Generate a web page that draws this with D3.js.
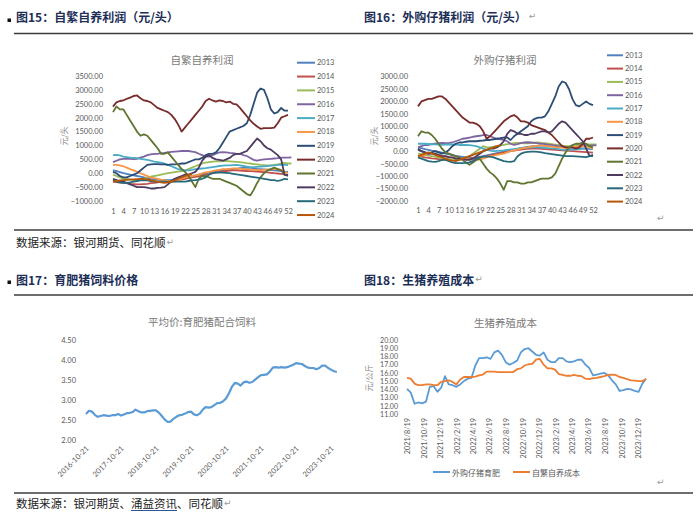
<!DOCTYPE html>
<html><head><meta charset="utf-8">
<script src="https://cdn.jsdelivr.net/npm/d3@7"></script>
<style>html,body{margin:0;padding:0;background:#fff;}svg{display:block;}</style>
</head><body>
<svg id="c" width="700" height="524"></svg>
<script>
// ---------------- DATA ----------------
const years = ['2013','2014','2015','2016','2017','2018','2019','2020','2021','2022','2023','2024'];
const yearColors = ['#4F81BD','#C0504D','#9BBB59','#8064A2','#4BACC6','#F79646','#2C4D75','#772C2A','#5F7530','#4D3B62','#276A7C','#B65708'];
const weekTicks = [1,4,7,10,13,16,19,22,25,28,31,34,37,40,43,46,49,52];
const profit15Ticks = [-1000,-500,0,500,1000,1500,2000,2500,3000,3500];
const profit16Ticks = [-2000,-1500,-1000,-500,0,500,1000,1500,2000,2500,3000];

// 图15 自繁自养利润 (元/头), weekly, index = week-1
const selfBredProfit = [
 [100,80,40,0,-20,-50,-80,-100,-120,-150,-180,-200,-210,-230,-240,-250,-250,-240,-220,-200,-180,-150,-120,-100,-80,-50,-30,0,20,50,80,100,110,120,140,150,160,180,190,200,190,180,160,150,140,130,110,100,90,80,60,50],
 [-300,-320,-340,-350,-360,-380,-390,-400,-400,-390,-380,-360,-350,-330,-310,-300,-290,-280,-260,-250,-230,-200,-180,-150,-130,-110,-80,-50,-30,0,20,50,70,80,90,100,100,90,85,80,75,70,60,50,40,30,15,0,-10,-20,-40,-50],
 [-50,-100,-150,-200,-200,-220,-250,-250,-230,-200,-150,-120,-100,-80,-50,-20,0,20,40,60,80,100,150,200,250,300,350,380,400,420,430,430,440,440,430,420,410,400,380,360,350,330,320,300,290,280,280,300,320,350,370,350,350],
 [400,450,500,520,530,520,510,520,560,600,650,680,700,700,720,730,750,770,780,790,800,800,800,780,760,700,650,600,600,650,700,750,760,750,730,720,700,700,650,620,550,480,450,480,500,510,520,530,540,560,560,560,570],
 [650,660,640,600,580,560,550,540,520,500,480,450,420,400,380,350,300,250,200,150,120,100,100,120,150,160,170,180,200,220,240,260,270,280,280,290,300,280,260,240,220,220,230,240,250,260,270,280,300,310,300,290],
 [300,300,280,250,200,150,100,50,0,-50,-100,-150,-180,-200,-230,-250,-280,-300,-300,-250,-200,-150,-120,-100,-80,-50,0,30,50,80,100,120,150,150,160,170,170,160,150,140,130,120,110,110,120,130,140,150,150,120,50,0],
 [50,0,-100,-150,-150,-100,-50,0,100,200,300,320,330,330,320,320,300,320,320,330,350,350,400,450,500,500,550,650,700,700,750,900,1100,1300,1500,1550,1600,1650,1700,1800,2100,2500,2900,3050,3000,2700,2300,2150,2200,2350,2250,2250],
 [2400,2550,2600,2620,2680,2720,2780,2800,2700,2620,2600,2550,2450,2350,2300,2250,2200,2100,1950,1750,1500,1650,1800,1950,2100,2250,2400,2600,2680,2620,2580,2620,2600,2550,2580,2500,2480,2350,2200,2050,1900,1780,1680,1600,1620,1620,1620,1640,1800,2000,2050,2100],
 [2200,2400,2300,2300,2100,1900,1700,1500,1350,1400,1350,1200,1050,900,700,700,750,600,450,300,150,50,-100,-300,-500,-200,-100,-100,-150,-200,-200,-200,-250,-300,-350,-400,-450,-550,-650,-750,-800,-600,-350,-150,0,100,150,200,150,100,-50,-100],
 [-200,-250,-300,-300,-350,-400,-450,-500,-500,-500,-520,-550,-550,-530,-520,-500,-400,-300,-200,-150,-100,-50,-50,0,50,200,450,600,650,550,500,480,450,500,550,650,700,700,750,800,950,1100,1250,1150,1000,900,850,750,650,500,-50,-80],
 [-250,-300,-330,-350,-350,-330,-300,-280,-260,-250,-260,-280,-300,-300,-300,-300,-300,-300,-300,-300,-300,-300,-280,-260,-250,-230,-200,-150,-50,0,20,30,20,10,0,-20,-40,-60,-80,-100,-120,-140,-160,-180,-200,-220,-250,-250,-280,-250,-200,-220],
 [-300,-280,-260,-250,-240,-230,-220,-210,-200,-200,-220,-250,-280,-300,-330,-350,-330,-300,-260,-200,-150,-100,-60,-30]
];

// 图16 外购仔猪利润 (元/头), weekly
const boughtPigletProfit = [
 [150,120,80,50,20,0,-30,-60,-100,-130,-160,-190,-210,-230,-250,-260,-260,-250,-230,-200,-170,-140,-110,-80,-50,-20,0,30,60,90,120,150,170,190,200,210,220,220,210,200,190,180,170,160,150,140,130,120,110,100,90,80],
 [-200,-220,-250,-270,-290,-300,-320,-340,-350,-360,-360,-350,-340,-330,-320,-300,-280,-260,-240,-220,-200,-170,-140,-110,-80,-50,-20,0,20,40,60,80,90,100,100,100,90,80,70,60,50,40,30,20,10,0,-10,-20,-30,-40,-50,-60],
 [-100,-120,-150,-180,-200,-220,-250,-280,-300,-320,-330,-330,-320,-300,-250,-200,-100,0,100,200,150,150,180,200,220,250,280,300,320,330,330,320,320,330,340,350,330,320,300,280,260,240,220,200,200,210,230,250,260,270,270,270,270],
 [150,200,250,250,280,300,320,330,320,320,350,400,450,500,520,550,580,600,620,650,650,600,550,500,480,450,400,300,250,280,320,350,360,350,330,310,300,280,260,240,220,200,180,150,130,150,170,190,200,210,220,230,230],
 [300,300,300,290,280,270,260,250,260,270,270,260,250,250,250,240,220,200,150,100,50,20,0,10,20,30,50,70,80,100,120,130,140,150,150,150,140,130,120,110,100,80,60,50,50,60,70,80,90,100,100,100],
 [-200,-180,-150,-100,-100,-120,-150,-180,-200,-230,-250,-280,-300,-320,-330,-340,-350,-350,-330,-300,-250,-200,-180,-150,-120,-100,-50,0,30,60,100,130,150,180,200,220,220,210,200,180,160,150,140,130,150,170,180,190,200,180,150,100],
 [100,0,-50,-100,-50,0,-50,-100,-50,50,200,300,350,350,380,400,400,400,420,430,450,450,480,500,520,550,550,450,600,700,800,900,1000,1200,1300,1350,1350,1400,1600,1900,2200,2600,2800,2750,2500,2100,1850,1800,1900,2000,1900,1850],
 [1800,2000,2050,2100,2100,2150,2200,2200,2100,1950,1800,1650,1500,1350,1250,1150,1150,1100,1000,800,500,600,750,900,1050,1200,1300,1400,1450,1350,1200,1200,1150,1050,1000,950,900,850,750,650,500,350,200,150,150,150,100,150,300,500,500,550],
 [600,800,750,750,650,500,300,100,-50,-100,-150,-200,-250,-350,-450,-550,-450,-350,-300,-500,-700,-850,-950,-1100,-1300,-1550,-1200,-1200,-1250,-1250,-1300,-1300,-1250,-1250,-1200,-1150,-1100,-1100,-1100,-1050,-900,-600,-300,-50,150,250,300,300,350,300,200,150],
 [50,0,-50,-100,-100,-100,-150,-200,-200,-250,-250,-300,-300,-300,-350,-350,-300,-200,-100,0,50,100,100,150,250,400,700,850,800,700,700,650,650,700,700,750,800,800,750,800,950,1100,1200,1150,1000,850,700,550,400,100,-200,-150],
 [-250,-300,-350,-400,-420,-430,-400,-350,-350,-400,-450,-480,-480,-480,-470,-450,-400,-300,-250,-220,-220,-220,-250,-300,-350,-400,-420,-430,-400,-200,-100,-50,-30,-20,-20,-30,-50,-80,-100,-120,-140,-160,-180,-200,-200,-200,-210,-220,-230,-240,-200,-200],
 [-200,-150,-100,-50,-80,-150,-200,-250,-300,-350,-380,-400,-350,-300,-250,-200,-150,-100,-50,0,50,100,150,200,250]
];

// 图17 平均价:育肥猪配合饲料 (monthly from 2016-10-21)
const feedStart = '2016-10-21';
const feedTickLabels = ['2016-10-21','2017-10-21','2018-10-21','2019-10-21','2020-10-21','2021-10-21','2022-10-21','2023-10-21'];
const feedTicks = [2.0,2.5,3.0,3.5,4.0,4.5];
const feedPrice = [2.65,2.73,2.71,2.63,2.58,2.60,2.62,2.61,2.60,2.62,2.62,2.65,2.61,2.64,2.67,2.68,2.70,2.76,2.72,2.69,2.69,2.72,2.73,2.74,2.74,2.68,2.60,2.51,2.45,2.46,2.53,2.58,2.62,2.63,2.66,2.70,2.71,2.64,2.62,2.66,2.76,2.82,2.81,2.82,2.87,2.92,2.93,2.97,3.04,3.17,3.33,3.43,3.41,3.36,3.44,3.46,3.43,3.45,3.51,3.57,3.62,3.63,3.64,3.71,3.81,3.82,3.81,3.82,3.81,3.82,3.85,3.88,3.92,3.91,3.90,3.85,3.81,3.80,3.80,3.77,3.80,3.86,3.86,3.80,3.76,3.72,3.70];

// 图18 生猪养殖成本 (元/公斤), bi-weekly from 2021/8/19
const costStart = '2021-08-19';
const costTickLabels = ['2021/8/19','2021/10/19','2021/12/19','2022/2/19','2022/4/19','2022/6/19','2022/8/19','2022/10/19','2022/12/19','2023/2/19','2023/4/19','2023/6/19','2023/8/19','2023/10/19','2023/12/19'];
const costTicks = [11,12,13,14,15,16,17,18,19,20];
const costSeriesNames = ['外购仔猪育肥','自繁自养成本'];
const costColors = ['#5B9BD5','#ED7D31'];
const costBought = [14.05,13.6,12.25,12.4,12.3,12.5,14.3,14.4,13.7,14.2,15.6,14.6,14.5,14.3,14.6,15.0,15.3,15.4,16.9,17.8,17.8,17.9,17.7,18.5,18.7,18.2,17.3,17.0,17.2,17.5,18.5,18.9,19.0,18.6,18.2,18.1,18.5,17.6,17.3,17.3,17.8,17.8,17.4,17.3,17.4,17.6,17.6,17.0,16.6,15.7,15.8,15.9,16.0,15.7,15.1,14.6,13.8,13.9,14.05,14.0,13.8,13.7,14.7,15.3];
const costSelf = [15.4,15.3,14.7,14.5,14.5,14.6,14.6,14.5,14.5,14.9,15.0,15.1,14.9,14.6,15.2,15.5,15.5,15.5,15.55,15.7,15.8,16.15,16.15,16.15,16.1,16.1,16.1,16.1,16.1,16.45,16.55,16.9,17.05,17.1,17.6,17.7,17.0,16.55,16.55,16.4,15.85,15.75,15.65,15.65,15.75,15.65,15.6,15.3,15.25,15.35,15.4,15.5,15.6,15.75,15.8,15.75,15.5,15.4,15.25,15.1,15.05,15.0,15.0,15.25];

// ---------------- DRAW ----------------
const svg = d3.select('#c');
const CJK = "'Noto Sans CJK SC','Noto Sans',sans-serif";
const NUM = "Lato,'Liberation Sans',sans-serif";
const GRAY = '#595959';
const TITLE_GRAY = '#7a7a7a';
const HEAD = '#1d2f57';
const RET = '#9a9a9a';

svg.append('rect').attr('width',700).attr('height',524).attr('fill','#fff');

function rule(x0,x1,y,w){ svg.append('line').attr('x1',x0).attr('x2',x1).attr('y1',y).attr('y2',y).attr('stroke','#3c3c3c').attr('stroke-width',w); }
function txt(x,y,s,opt){
  const t = svg.append('text').attr('x',x).attr('y',y).text(s)
   .attr('font-family',opt.ff||CJK).attr('font-size',opt.fs||11).attr('fill',opt.fill||'#222')
   .attr('dominant-baseline','central').attr('text-anchor',opt.anchor||'start');
  if(opt.fw) t.attr('font-weight',opt.fw);
  return t;
}
function retMark(x,y){ txt(x,y,'↵',{ff:"'DejaVu Sans',sans-serif",fs:9,fill:RET}); }

// headings
svg.append('rect').attr('x',7.5).attr('y',18.5).attr('width',3.5).attr('height',3.5).attr('fill','#111');
txt(16,16,'图15：自繁自养利润（元/头）',{fs:12,fw:'bold',fill:HEAD});
const h16 = txt(364,16,'图16：外购仔猪利润（元/头）',{fs:12,fw:'bold',fill:HEAD});
retMark(364 + h16.node().getComputedTextLength() + 2, 16);
svg.append('rect').attr('x',7.5).attr('y',280.5).attr('width',3.5).attr('height',3.5).attr('fill','#111');
txt(16,279,'图17：育肥猪饲料价格',{fs:12,fw:'bold',fill:HEAD});
const h18 = txt(364,279,'图18：生猪养殖成本',{fs:12,fw:'bold',fill:HEAD});
retMark(364 + h18.node().getComputedTextLength() + 1, 279);

rule(14,693,33.5,1.6);
rule(14,693,230,1.4);
rule(14,693,295,1.6);
rule(14,693,493,1.4);

const s1 = txt(16,241.5,'数据来源：银河期货、同花顺',{fs:11.5,fill:'#222'});
retMark(16 + s1.node().getComputedTextLength() + 1, 241.5);
retMark(657,218);
retMark(657,482);

const s2 = svg.append('text').attr('x',16).attr('y',503).attr('font-family',CJK).attr('font-size',11.5).attr('fill','#222').attr('dominant-baseline','central');
s2.append('tspan').text('数据来源：银河期货、');
s2.append('tspan').text('涌益资讯');
s2.append('tspan').text('、同花顺');
{
  const n = s2.node();
  const a = n.getSubStringLength(0,10), b = n.getSubStringLength(10,4);
  svg.append('line').attr('x1',16+a).attr('x2',16+a+b).attr('y1',510.5).attr('y2',510.5).attr('stroke','#2F5597').attr('stroke-width',1);
  retMark(16 + n.getComputedTextLength() + 1, 503);
}

function styleAxis(g, fs){
  g.select('.domain').remove();
  g.attr('font-family',NUM).attr('font-size',fs);
  g.selectAll('text').attr('fill',GRAY);
}

// multi-year profit charts
function multiYear(cfg){
  const x = d3.scaleLinear().domain([1,52]).range(cfg.xr);
  const y = d3.scaleLinear().domain(cfg.yd).range(cfg.yr);
  const g = svg.append('g');
  txt(cfg.titleX, 59, cfg.title, {fs:10.5, fill:TITLE_GRAY, anchor:'middle'});
  g.append('g').attr('transform',`translate(${cfg.yLabelX},0)`)
    .call(d3.axisLeft(y).tickValues(cfg.ticks).tickFormat(d3.format('.2f')).tickSize(0).tickPadding(0))
    .call(s=>styleAxis(s,7.5));
  g.append('g').attr('transform',`translate(0,${cfg.xLabelY})`)
    .call(d3.axisBottom(x).tickValues(weekTicks).tickFormat(d3.format('d')).tickSize(0).tickPadding(0))
    .call(s=>styleAxis(s,7.5));
  svg.append('text').attr('transform',`translate(${cfg.yTitleX},136) rotate(-90)`)
    .attr('text-anchor','middle').attr('dominant-baseline','central')
    .attr('font-family',CJK).attr('font-size',8).attr('fill','#8a8a8a').text('元/头');
  const line = d3.line().x((d,i)=>x(i+1)).y(d=>y(d));
  cfg.series.forEach((s,i)=>{
    g.append('path').datum(s).attr('d',line).attr('fill','none')
      .attr('stroke',yearColors[i]).attr('stroke-width',1.8).attr('stroke-linejoin','round');
  });
  years.forEach((yr,i)=>{
    const ly = cfg.legY0 + i*cfg.legStep;
    g.append('line').attr('x1',cfg.legX0).attr('x2',cfg.legX1).attr('y1',ly).attr('y2',ly)
      .attr('stroke',yearColors[i]).attr('stroke-width',2);
    txt(cfg.legX1+2, ly, yr, {ff:NUM, fs:7.5, fill:GRAY});
  });
}

multiYear({title:'自繁自养利润', titleX:202, xr:[113,288], yd:[-1000,3500], yr:[201,76],
  ticks:profit15Ticks, yLabelX:103, xLabelY:208.5, yTitleX:63, series:selfBredProfit,
  legX0:297, legX1:315, legY0:62.7, legStep:13.85});
multiYear({title:'外购仔猪利润', titleX:505, xr:[418,593], yd:[-2000,3000], yr:[201,76.5],
  ticks:profit16Ticks, yLabelX:408, xLabelY:207.5, yTitleX:373, series:boughtPigletProfit,
  legX0:607, legX1:623, legY0:55.3, legStep:13.3});

// chart 17
{
  const parse = d3.timeParse('%Y-%m-%d');
  const t0 = parse(feedStart);
  const ticks = feedTickLabels.map(parse);
  const x = d3.scaleTime().domain([ticks[0], ticks[ticks.length-1]]).range([86,331]);
  const y = d3.scaleLinear().domain([2,4.5]).range([440,340]);
  const g = svg.append('g');
  txt(202,321,'平均价:育肥猪配合饲料',{fs:10.5,fill:TITLE_GRAY,anchor:'middle'});
  g.append('g').attr('transform','translate(76,0)')
    .call(d3.axisLeft(y).tickValues(feedTicks).tickFormat(d3.format('.2f')).tickSize(0).tickPadding(0))
    .call(s=>styleAxis(s,7.5));
  const xa = g.append('g').attr('transform','translate(0,447)')
    .call(d3.axisBottom(x).tickValues(ticks).tickFormat(d3.timeFormat('%Y-%m-%d')).tickSize(0).tickPadding(0))
    .call(s=>styleAxis(s,7.5));
  xa.selectAll('text').attr('text-anchor','end').attr('dy','0.35em')
    .attr('transform','translate(1,0) rotate(-45)');
  const pts = feedPrice.map((v,i)=>({d:d3.timeMonth.offset(t0,i), v}));
  g.append('path').datum(pts).attr('fill','none').attr('stroke','#5B9BD5').attr('stroke-width',2.2)
    .attr('stroke-linejoin','round')
    .attr('d', d3.line().x(p=>x(p.d)).y(p=>y(p.v)));
}

// chart 18
{
  const parse = d3.timeParse('%Y-%m-%d');
  const parseTick = d3.timeParse('%Y/%m/%d');
  const t0 = parse(costStart);
  const ticks = costTickLabels.map(parseTick);
  const x = d3.scaleTime().domain([ticks[0], ticks[ticks.length-1]]).range([407,638]);
  const y = d3.scaleLinear().domain([11,20]).range([414,340]);
  const g = svg.append('g');
  txt(505.5,322,'生猪养殖成本',{fs:10.5,fill:TITLE_GRAY,anchor:'middle'});
  g.append('g').attr('transform','translate(398,0)')
    .call(d3.axisLeft(y).tickValues(costTicks).tickFormat(d3.format('.2f')).tickSize(0).tickPadding(0))
    .call(s=>styleAxis(s,7));
  const fmt = d => `${d.getFullYear()}/${d.getMonth()+1}/${d.getDate()}`;
  const xa = g.append('g').attr('transform','translate(0,418)')
    .call(d3.axisBottom(x).tickValues(ticks).tickFormat(fmt).tickSize(0).tickPadding(0))
    .call(s=>styleAxis(s,7.3));
  xa.selectAll('text').attr('text-anchor','end').attr('dy','0.35em').attr('y',0)
    .attr('transform','rotate(-90)');
  svg.append('text').attr('transform','translate(368,378) rotate(-90)')
    .attr('text-anchor','middle').attr('dominant-baseline','central')
    .attr('font-family',CJK).attr('font-size',8).attr('fill','#8a8a8a').text('元/公斤');
  const line = d3.line().x((v,i)=>x(d3.timeDay.offset(t0,14*i))).y(v=>y(v));
  [costBought, costSelf].forEach((s,i)=>{
    g.append('path').datum(s).attr('fill','none').attr('stroke',costColors[i]).attr('stroke-width',1.8)
      .attr('stroke-linejoin','round').attr('d',line);
  });
  const legX = [433,513];
  costSeriesNames.forEach((n,i)=>{
    g.append('line').attr('x1',legX[i]).attr('x2',legX[i]+17).attr('y1',472).attr('y2',472)
      .attr('stroke',costColors[i]).attr('stroke-width',2);
    txt(legX[i]+19,472,n,{fs:8,fill:GRAY});
  });
}
</script>
</body></html>
